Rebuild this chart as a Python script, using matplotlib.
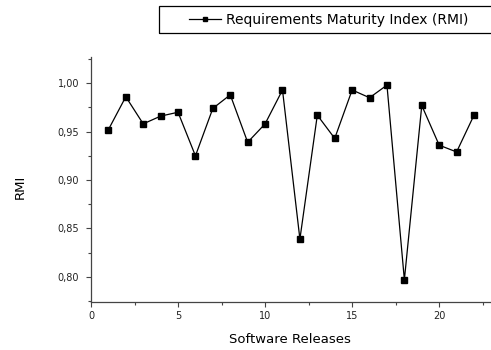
import matplotlib
matplotlib.use("Agg")
import matplotlib.pyplot as plt
from matplotlib.patches import Rectangle
from matplotlib.ticker import MultipleLocator, FuncFormatter

plt.rcParams['font.family'] = ['DejaVu Sans']

# RMI per software release
releases = list(range(1, 23))
rmi = [0.952, 0.986, 0.958, 0.966, 0.970, 0.925, 0.974, 0.988, 0.939, 0.958, 0.993,
       0.839, 0.967, 0.943, 0.993, 0.985, 0.998, 0.797, 0.977, 0.936, 0.929, 0.967]

fig = plt.figure(figsize=(4.91, 3.5), dpi=100)
ax = fig.add_axes([0.1853, 0.137, 0.812, 0.700])

line, = ax.plot(releases, rmi, color='black', lw=0.9, marker='s', markersize=5,
                markerfacecolor='black', markeredgecolor='black',
                label='Requirements Maturity Index (RMI)')

ax.set_xlim(0, 22.9)
ax.set_ylim(0.774, 1.027)

for s in ('top', 'right'):
    ax.spines[s].set_visible(False)
for s in ('left', 'bottom'):
    ax.spines[s].set_color('#444444')
    ax.spines[s].set_linewidth(0.9)

ax.xaxis.set_major_locator(MultipleLocator(5))
ax.xaxis.set_minor_locator(MultipleLocator(2.5))
ax.yaxis.set_major_locator(MultipleLocator(0.05))
ax.yaxis.set_minor_locator(MultipleLocator(0.025))
ax.yaxis.set_major_formatter(FuncFormatter(lambda v, p: ('%.2f' % v).replace('.', ',')))
ax.tick_params(which='major', direction='out', length=3.5, width=0.8, color='#444444',
               labelsize=7, labelcolor='#222222', pad=3)
ax.tick_params(axis='y', which='major', pad=5)
ax.tick_params(which='minor', direction='out', length=2, width=0.8, color='#444444')

ax.set_xlabel('Software Releases', fontsize=9.5)
ax.xaxis.set_label_coords(0.5, -0.125)
ax.set_ylabel('RMI', fontsize=9.5)
ax.yaxis.set_label_coords(-0.16, 0.47)

# legend sits above the plot, its frame runs off the right edge
leg = fig.legend(handles=[line], loc='center left', bbox_to_anchor=(0.385, 0.944),
                 fontsize=10, frameon=False, handlelength=2.3, borderpad=0,
                 borderaxespad=0, handletextpad=0.35, markerscale=0.65)
fig.patches.append(Rectangle((0.324, 0.906), 0.7, 0.077, transform=fig.transFigure,
                             fill=False, edgecolor='black', linewidth=0.9))

fig.savefig('out.png', dpi=100)
